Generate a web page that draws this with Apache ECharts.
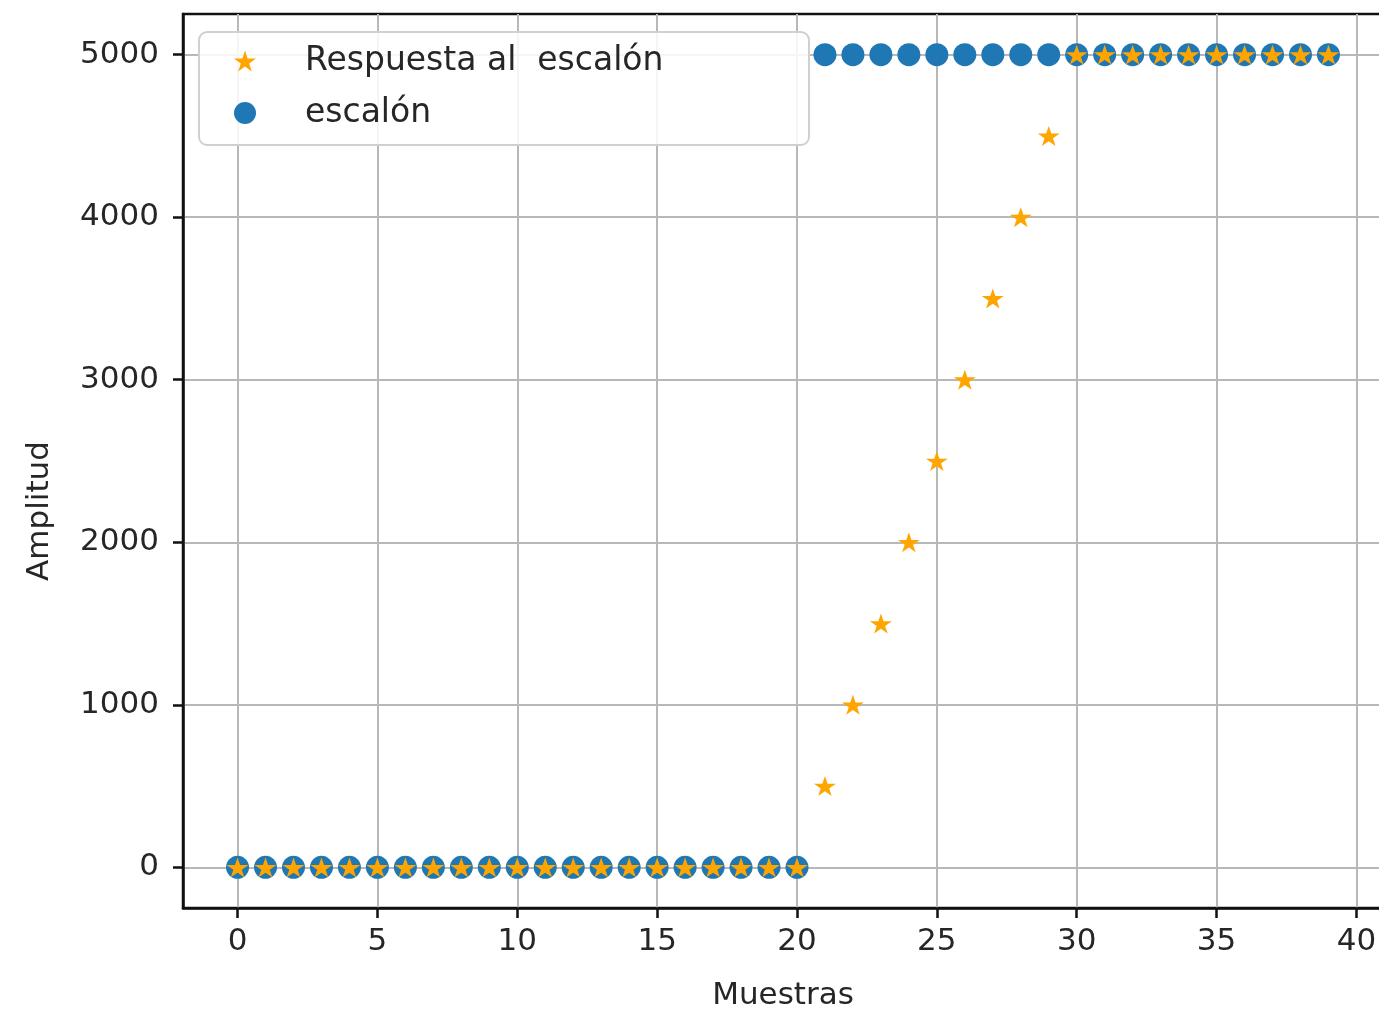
<!DOCTYPE html>
<html><head><meta charset="utf-8">
<script src="https://cdn.jsdelivr.net/npm/echarts@6/dist/echarts.min.js"></script>
<style>html,body{margin:0;padding:0;background:#fff;overflow:hidden}#c{width:1379px;height:1012px}</style>
</head><body><div id="c"></div>
<script>
const samples = [0,1,2,3,4,5,6,7,8,9,10,11,12,13,14,15,16,17,18,19,20,21,22,23,24,25,26,27,28,29,30,31,32,33,34,35,36,37,38,39];
const escalon = [0,0,0,0,0,0,0,0,0,0,0,0,0,0,0,0,0,0,0,0,0,5000,5000,5000,5000,5000,5000,5000,5000,5000,5000,5000,5000,5000,5000,5000,5000,5000,5000,5000];
const respuesta = [0,0,0,0,0,0,0,0,0,0,0,0,0,0,0,0,0,0,0,0,0,500,1000,1500,2000,2500,3000,3500,4000,4500,5000,5000,5000,5000,5000,5000,5000,5000,5000,5000];
const xTicks = [0,5,10,15,20,25,30,35,40];
const yTicks = [0,1000,2000,3000,4000,5000];
const seriesNames = ['Respuesta al  escalón', 'escalón'];

const STAR = 'path://M0,-100 L22.45,-30.9 L95.1,-30.9 L36.33,11.8 L58.8,80.9 L0,38.2 L-58.8,80.9 L-36.33,11.8 L-95.1,-30.9 L-22.45,-30.9 Z';
const FONT = 'DejaVu Sans';
const TXT = '#262626';
const FS = 31;

const chart = echarts.init(document.getElementById('c'), null, {renderer: 'canvas'});
const gridLine = {show: true, lineStyle: {color: '#b8b8b8', width: 2}};
chart.setOption({
  animation: false,
  backgroundColor: '#fff',
  grid: {left: 183, width: 1200, top: 14, height: 894, outerBoundsMode: 'none', containLabel: false, show: true, borderColor: '#111', borderWidth: 2.5, backgroundColor: 'transparent'},
  xAxis: {
    type: 'value', min: -1.95, max: 40.95,
    name: 'Muestras', nameLocation: 'middle', nameGap: 72,
    nameTextStyle: {fontFamily: FONT, fontSize: FS, color: TXT},
    axisLine: {show: true, onZero: false, lineStyle: {color: '#111', width: 2.5}},
    axisTick: {show: true, customValues: xTicks, length: 10, lineStyle: {color: '#111', width: 2.5}},
    axisLabel: {customValues: xTicks, fontFamily: FONT, fontSize: FS, color: TXT, margin: 18, formatter: v => String(v)},
    splitLine: gridLine
  },
  yAxis: {
    type: 'value', min: -250, max: 5250,
    name: 'Amplitud', nameLocation: 'middle', nameGap: 128, nameRotate: 90,
    nameTextStyle: {fontFamily: FONT, fontSize: FS, color: TXT, padding: [0, 100, 0, 0]},
    axisLine: {show: true, onZero: false, lineStyle: {color: '#111', width: 2.5}},
    axisTick: {show: true, customValues: yTicks, length: 10, lineStyle: {color: '#111', width: 2.5}},
    axisLabel: {customValues: yTicks, fontFamily: FONT, fontSize: FS, color: TXT, margin: 24, formatter: v => String(v)},
    splitLine: gridLine
  },
  legend: {
    orient: 'vertical', left: 199, top: 32,
    data: seriesNames,
    padding: [11, 30, 14, 35],
    itemGap: 16, itemWidth: 22, itemHeight: 22,
    backgroundColor: 'rgba(255,255,255,0.85)',
    borderColor: '#d0d0d0', borderWidth: 2, borderRadius: 8,
    textStyle: {fontFamily: FONT, fontSize: 33, color: TXT, lineHeight: 36, width: 474, padding: [0, 0, 0, 44]}
  },
  series: [
    {
      name: seriesNames[0], type: 'scatter', z: 3,
      symbol: STAR, symbolSize: [22, 21], symbolKeepAspect: true,
      itemStyle: {color: '#ffa500', opacity: 1},
      data: samples.map((s, i) => [s, respuesta[i]])
    },
    {
      name: seriesNames[1], type: 'scatter', z: 2,
      symbol: 'circle', symbolSize: 23,
      itemStyle: {color: '#1f77b4', opacity: 1},
      data: samples.map((s, i) => [s, escalon[i]])
    }
  ]
});
</script></body></html>
